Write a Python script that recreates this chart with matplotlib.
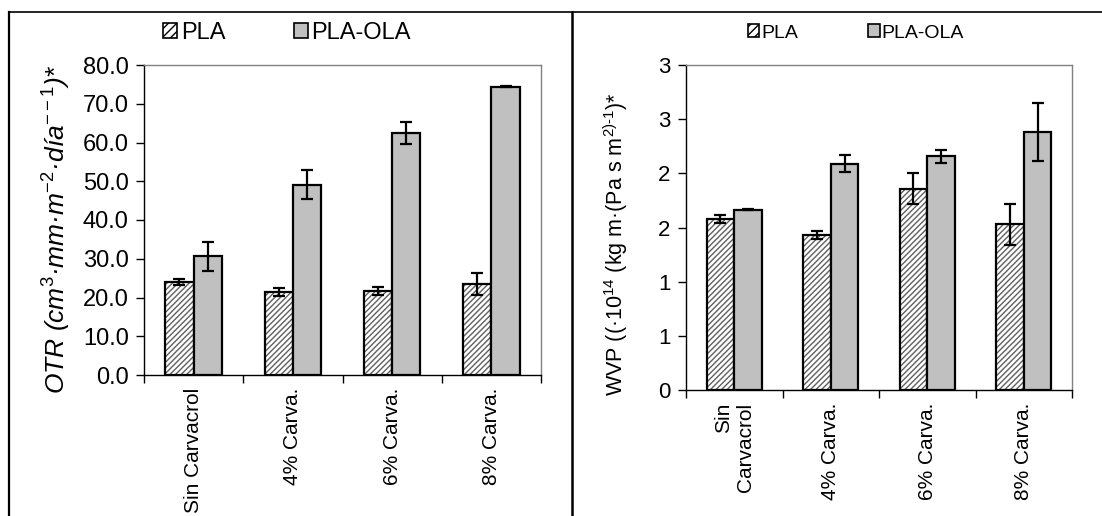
import numpy as np
import matplotlib
matplotlib.use("Agg")
import matplotlib.pyplot as plt
from matplotlib.patches import Patch
from matplotlib.lines import Line2D

# --- DATA ---
cats_otr = ["Sin Carvacrol", "4% Carva.", "6% Carva.", "8% Carva."]
cats_wvp = ["Sin\nCarvacrol", "4% Carva.", "6% Carva.", "8% Carva."]
series = ["PLA", "PLA-OLA"]

otr_pla = [24.0, 21.5, 21.6, 23.5]
otr_pla_err = [0.8, 1.0, 1.0, 2.8]
otr_ola = [30.6, 49.1, 62.5, 74.4]
otr_ola_err = [3.7, 3.8, 2.8, 0.1]

wvp_pla = [1.58, 1.43, 1.86, 1.53]
wvp_pla_err = [0.04, 0.04, 0.14, 0.19]
wvp_ola = [1.665, 2.09, 2.16, 2.38]
wvp_ola_err = [0.005, 0.08, 0.06, 0.27]

otr_ticks = [0, 10, 20, 30, 40, 50, 60, 70, 80]
otr_ticklabels = ["0.0", "10.0", "20.0", "30.0", "40.0", "50.0", "60.0", "70.0", "80.0"]
wvp_ticks = [0, 0.5, 1.0, 1.5, 2.0, 2.5, 3.0]
wvp_ticklabels = ["0", "1", "1", "2", "2", "3", "3"]

# --- STYLE ---
plt.rcParams["font.family"] = ["Liberation Sans", "DejaVu Sans"]
plt.rcParams["mathtext.fontset"] = "custom"
plt.rcParams["mathtext.rm"] = "Liberation Sans"
plt.rcParams["mathtext.it"] = "Liberation Sans:italic"
plt.rcParams["hatch.linewidth"] = 1.0

GREY = "#c0c0c0"
BAR_W = 0.285


def draw_panel(ax, labels, pla, pla_err, ola, ola_err, tick_fs, xlab_fs):
    n = len(labels)
    centers = np.arange(n) + 0.5
    x_pla = centers - BAR_W / 2
    x_ola = centers + BAR_W / 2

    # hatched fill, then black outline on top
    ax.bar(x_pla, pla, BAR_W, color="white", edgecolor="#606060",
           hatch="//////", linewidth=0, zorder=2)
    ax.bar(x_pla, pla, BAR_W, fill=False, edgecolor="black", linewidth=1.6, zorder=3)
    ax.bar(x_ola, ola, BAR_W, color=GREY, edgecolor="black", linewidth=1.6, zorder=3)

    for x, v, e in [(x_pla, pla, pla_err), (x_ola, ola, ola_err)]:
        ax.errorbar(x, v, yerr=e, fmt="none", ecolor="black", elinewidth=1.6,
                    capsize=4.5, capthick=1.6, zorder=4)

    ax.set_xlim(0, n)
    ax.set_xticks(np.arange(n + 1))
    ax.set_xticklabels([])
    ax.set_xticks(centers, minor=True)
    ax.set_xticklabels(labels, minor=True, rotation=90, ha="center", va="top",
                       fontsize=xlab_fs, multialignment="right")
    ax.tick_params(axis="x", which="major", direction="out", length=6, width=1)
    ax.tick_params(axis="x", which="minor", length=0, pad=9)
    ax.tick_params(axis="y", direction="out", length=6, width=1, labelsize=tick_fs, pad=5)

    for s in ["left", "bottom"]:
        ax.spines[s].set_color("black")
        ax.spines[s].set_linewidth(1.0)
    for s in ["top", "right"]:
        ax.spines[s].set_color("#808080")
        ax.spines[s].set_linewidth(1.0)


fig = plt.figure(figsize=(11.02, 5.16), dpi=100)

ax1 = fig.add_axes([144 / 1102, 1 - 375 / 516, 397 / 1102, 310 / 516])
draw_panel(ax1, cats_otr, otr_pla, otr_pla_err, otr_ola, otr_ola_err, 17, 15)
ax1.set_ylim(0, 80)
ax1.set_yticks(otr_ticks)
ax1.set_yticklabels(otr_ticklabels)
ax1.set_ylabel(r"OTR (cm$^{\mathit{3}}$·mm·m$^{\mathit{-2}}$·día$^{\mathit{--1}}$)*",
               fontsize=19, style="italic")
ax1.yaxis.set_label_coords(-0.18, 0.47)

ax2 = fig.add_axes([686 / 1102, 1 - 390 / 516, 386 / 1102, 325 / 516])
draw_panel(ax2, cats_wvp, wvp_pla, wvp_pla_err, wvp_ola, wvp_ola_err, 16, 15)
ax2.set_ylim(0, 3)
ax2.set_yticks(wvp_ticks)
ax2.set_yticklabels(wvp_ticklabels)
ax2.set_ylabel(r"WVP ((·10$^{\mathrm{14}}$ (kg m·(Pa s m$^{\mathrm{2)}\text{-}\mathrm{1}}$)*",
               fontsize=15.5)
ax2.yaxis.set_label_coords(-0.145, 0.45)

# legends
handles = [Patch(facecolor="white", edgecolor="black", hatch="////", linewidth=1.2),
           Patch(facecolor=GREY, edgecolor="black", linewidth=1.2)]
fig.legend(handles, series, loc="center", bbox_to_anchor=(287 / 1102, 1 - 33 / 516),
           ncol=2, frameon=False, fontsize=17, handlelength=0.6, handleheight=0.6,
           handletextpad=0.15, columnspacing=2.9, borderpad=0)
fig.legend(handles, series, loc="center", bbox_to_anchor=(856 / 1102, 1 - 33 / 516),
           ncol=2, frameon=False, fontsize=14, handlelength=0.6, handleheight=0.6,
           handletextpad=0.1, columnspacing=3.6, borderpad=0)

# outer frame lines
ytop = 1 - 12 / 516
fig.add_artist(Line2D([9 / 1102, 1.0], [ytop, ytop], color="black", lw=1.2))
fig.add_artist(Line2D([9 / 1102, 9 / 1102], [0, ytop], color="black", lw=1.6))
fig.add_artist(Line2D([572 / 1102, 572 / 1102], [0, ytop], color="black", lw=1.8))

fig.savefig("out.png", dpi=100)
